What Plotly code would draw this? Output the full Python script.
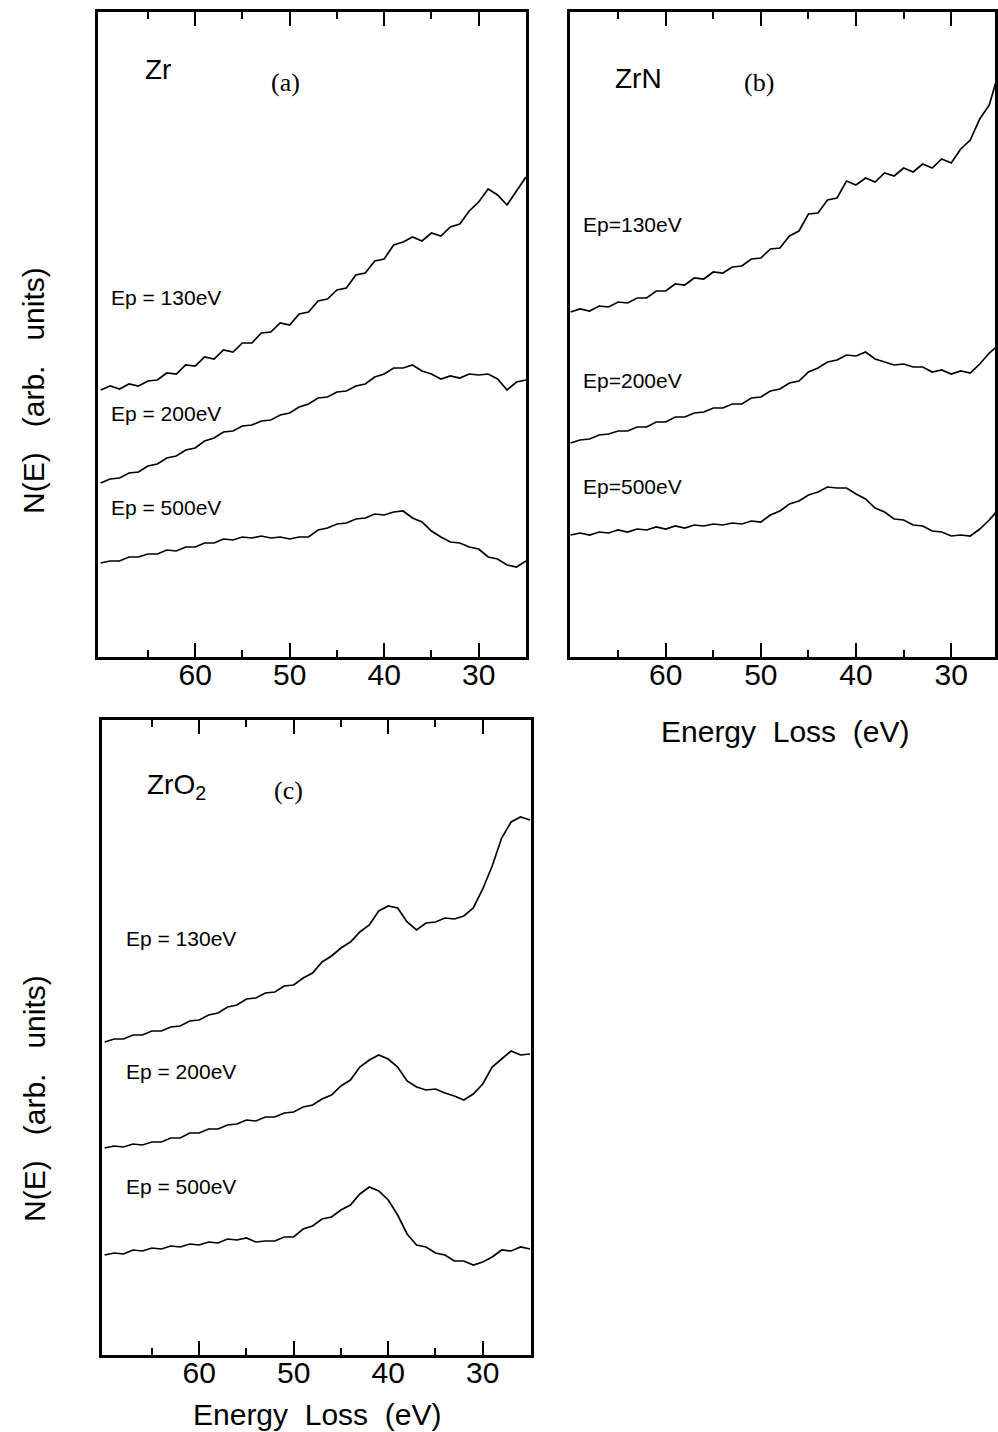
import plotly.graph_objects as go

# Energy loss axis (eV), 1 eV steps from 70 down to 25
energy = list(range(70, 24, -1))

# Panel (a) Zr  -- N(E), arbitrary units
zr_130 = [267, 271, 268, 273, 271, 276, 277, 284, 283, 292, 291, 300, 298, 307, 305, 314, 314, 324, 325, 334,
          332, 343, 345, 356, 358, 367, 369, 382, 384, 396, 398, 412, 415, 420, 416, 424, 421, 430, 433, 446,
          455, 468, 462, 452, 466, 480]
zr_200 = [174, 178, 179, 184, 185, 191, 193, 199, 201, 207, 209, 216, 219, 225, 226, 231, 232, 236, 237, 242,
          244, 250, 253, 259, 260, 265, 266, 271, 273, 280, 283, 289, 289, 292, 286, 283, 278, 281, 279, 283,
          282, 283, 278, 267, 275, 277]
zr_500 = [94, 96, 96, 100, 100, 103, 103, 107, 106, 110, 110, 114, 114, 118, 117, 120, 119, 121, 119, 120,
          118, 120, 120, 127, 129, 133, 134, 138, 139, 143, 142, 145, 146, 139, 135, 126, 120, 115, 114, 110,
          108, 100, 98, 92, 90, 96]

# Panel (b) ZrN
zrn_130 = [345, 348, 346, 351, 350, 355, 354, 359, 359, 366, 366, 373, 372, 379, 378, 385, 384, 390, 391, 398,
           399, 408, 409, 421, 426, 443, 444, 457, 459, 476, 472, 479, 475, 484, 481, 489, 485, 493, 489, 498,
           494, 508, 517, 538, 552, 585]
zrn_200 = [214, 217, 218, 222, 223, 226, 226, 230, 230, 235, 235, 240, 240, 244, 245, 249, 249, 253, 253, 259,
           260, 266, 268, 274, 276, 285, 289, 295, 297, 302, 301, 305, 298, 295, 292, 293, 290, 290, 285, 287,
           283, 286, 284, 293, 304, 312]
zrn_500 = [122, 124, 122, 125, 124, 127, 125, 128, 127, 130, 128, 131, 129, 132, 131, 133, 132, 134, 133, 136,
           135, 142, 146, 153, 156, 162, 165, 170, 169, 169, 163, 158, 149, 145, 138, 137, 132, 131, 126, 125,
           121, 122, 121, 128, 137, 148]

# Panel (c) ZrO2
zro2_130 = [313, 316, 316, 320, 320, 324, 324, 328, 329, 334, 335, 340, 342, 348, 350, 356, 357, 362, 363, 369,
            370, 377, 382, 393, 399, 407, 413, 423, 430, 444, 449, 447, 433, 425, 432, 433, 437, 436, 439, 447,
            466, 489, 517, 533, 538, 535]
zro2_200 = [207, 209, 208, 211, 210, 213, 213, 217, 217, 222, 222, 226, 226, 230, 231, 235, 234, 238, 238, 242,
            243, 248, 250, 256, 260, 269, 275, 288, 295, 300, 296, 288, 274, 268, 265, 266, 262, 259, 255, 261,
            271, 288, 296, 304, 300, 301]
zro2_500 = [100, 102, 101, 105, 104, 107, 106, 109, 108, 111, 110, 113, 112, 116, 115, 117, 113, 114, 114, 118,
            118, 126, 129, 136, 138, 145, 150, 161, 168, 164, 155, 140, 121, 110, 108, 102, 100, 94, 94, 90,
            93, 98, 105, 104, 108, 106]

major_ticks = [60, 50, 40, 30]
minor_ticks = [65, 55, 45, 35]

W, H = 998, 1432
def px(x):
    return x / W
def py(y):
    return 1 - y / H

fig = go.Figure()
line = dict(color="black", width=1.7)
for ser in (zr_130, zr_200, zr_500):
    fig.add_trace(go.Scatter(x=energy, y=ser, mode="lines", line=line, xaxis="x", yaxis="y", showlegend=False))
for ser in (zrn_130, zrn_200, zrn_500):
    fig.add_trace(go.Scatter(x=energy, y=ser, mode="lines", line=line, xaxis="x2", yaxis="y2", showlegend=False))
for ser in (zro2_130, zro2_200, zro2_500):
    fig.add_trace(go.Scatter(x=energy, y=ser, mode="lines", line=line, xaxis="x3", yaxis="y3", showlegend=False))

FONT = "Liberation Sans, Arial, sans-serif"

def xax(domain, rng, anchor):
    return dict(domain=domain, range=rng, anchor=anchor, showline=True, linecolor="black", linewidth=2.5,
                mirror="ticks", ticks="inside", ticklen=14, tickwidth=2, tickcolor="black",
                tickvals=major_ticks, ticktext=[str(v) for v in major_ticks],
                tickfont=dict(family=FONT, size=30, color="black"), ticklabelstandoff=-11,
                minor=dict(tickvals=minor_ticks, ticks="inside", ticklen=7, tickwidth=2, tickcolor="black"),
                showgrid=False, zeroline=False, fixedrange=True)

def yax(domain, rng, anchor):
    return dict(domain=domain, range=rng, anchor=anchor, showline=True, linecolor="black", linewidth=2.5,
                mirror=True, ticks="", showticklabels=False, showgrid=False, zeroline=False)

fig.update_layout(
    width=W, height=H, margin=dict(l=0, r=0, t=0, b=0),
    paper_bgcolor="white", plot_bgcolor="white",
    xaxis=xax([px(98), px(527)], [70.3, 25.0], "y"),
    yaxis=yax([py(657), py(12)], [0, 645], "x"),
    xaxis2=xax([px(571), px(997)], [70.07, 25.4], "y2"),
    yaxis2=yax([py(657), py(12)], [0, 645], "x2"),
    xaxis3=xax([px(102), px(532)], [70.3, 24.9], "y3"),
    yaxis3=yax([py(1355), py(720)], [0, 635], "x3"),
)

ann = []
def add(text, x, y, size, family=FONT, xanchor="left", angle=0):
    ann.append(dict(text=text, x=px(x), y=py(y), xref="paper", yref="paper", showarrow=False,
                    xanchor=xanchor, yanchor="middle", textangle=angle,
                    font=dict(family=family, size=size, color="black")))

SERIF = "Liberation Serif, Times New Roman, serif"
add("Zr", 143, 70, 28)
add("(a)", 270, 83, 26, SERIF)
add("ZrN", 614, 78, 28)
add("(b)", 743, 83, 26, SERIF)
add("ZrO<sub>2</sub>", 145, 786, 28)
add("(c)", 273, 790, 26, SERIF)

add("Ep = 130eV", 109, 297, 21)
add("Ep = 200eV", 109, 413, 21)
add("Ep = 500eV", 109, 507, 21)
add("Ep=130eV", 582, 224, 21)
add("Ep=200eV", 582, 381, 21)
add("Ep=500eV", 582, 486, 21)
add("Ep = 130eV", 124, 938, 21)
add("Ep = 200eV", 124, 1071, 21)
add("Ep = 500eV", 124, 1186, 21)

add("Energy&nbsp; Loss&nbsp; (eV)", 787, 731, 30, xanchor="center")
add("Energy&nbsp; Loss&nbsp; (eV)", 318, 1414, 30, xanchor="center")
add("N(E)&nbsp;&nbsp; (arb.&nbsp;&nbsp; units)", 34, 390, 30, xanchor="center", angle=-90)
add("N(E)&nbsp;&nbsp; (arb.&nbsp;&nbsp; units)", 34, 1098, 30, xanchor="center", angle=-90)

fig.update_layout(annotations=ann)
fig.write_html("out.html")
